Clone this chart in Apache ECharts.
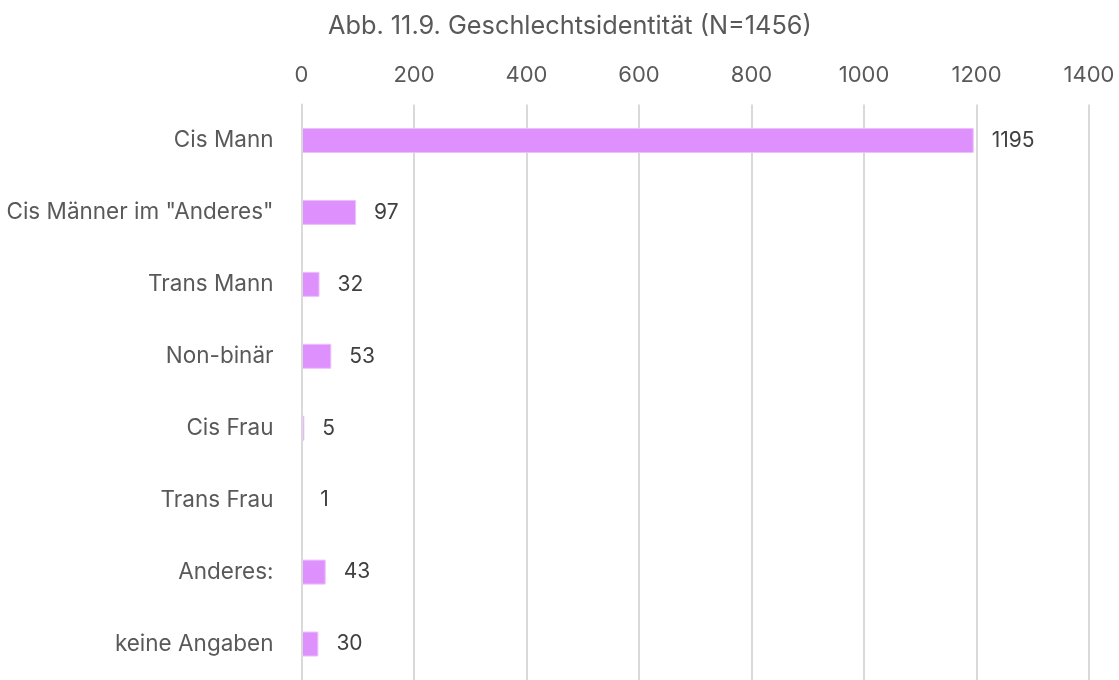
<!DOCTYPE html>
<html>
<head>
<meta charset="utf-8">
<script src="https://cdn.jsdelivr.net/npm/echarts@6/dist/echarts.min.js"></script>
<style>
	html, body { margin: 0; padding: 0; background: #fff; }
	#chart { width: 1119px; height: 680px; }
</style>
</head>
<body>
<div id="chart"></div>
<script>
var categories = ['Cis Mann', 'Cis Männer im "Anderes"', 'Trans Mann', 'Non-binär', 'Cis Frau', 'Trans Frau', 'Anderes:', 'keine Angaben'];
var counts = [1195, 97, 32, 53, 5, 1, 43, 30];
var xTicks = [0, 200, 400, 600, 800, 1000, 1200, 1400];

var myChart = echarts.init(document.getElementById('chart'));

// Balkendiagramm, Achse oben
var option = {
	animation: false,
	textStyle: { fontFamily: 'Inter' },
	title: {
		text: 'Abb. 11.9. Geschlechtsidentität (N=1456)',
		left: 323,
		top: 9,
		textStyle: { fontFamily: 'Inter', fontSize: 25.3, fontWeight: 'normal', color: '#595959' }
	},
	grid: { left: 301.5, right: 30, top: 104.5, height: 579.5 },
	xAxis: {
		type: 'value',
		position: 'top',
		min: xTicks[0],
		max: xTicks[xTicks.length - 1],
		interval: 200,
		axisLine: { show: false },
		axisTick: { show: false },
		axisLabel: {
			fontSize: 22,
			color: '#595959',
			margin: 18,
			formatter: function(v){ return String(v); }
		},
		splitLine: { lineStyle: { color: '#d9d9d9', width: 2 } }
	},
	yAxis: {
		type: 'category',
		inverse: true,
		z: 3,
		data: categories,
		axisLine: { lineStyle: { color: '#d9d9d9', width: 2 } },
		axisTick: { length: 7, lineStyle: { color: '#d9d9d9', width: 2 } },
		axisLabel: { fontSize: 22.5, color: '#595959', margin: 28, padding: [4, 0, 0, 0] }
	},
	series: [{
		type: 'bar',
		data: counts,
		barWidth: 25,
		itemStyle: { color: '#DE90FD', borderColor: '#EDC0FE', borderWidth: 1 },
		label: {
			show: true,
			position: 'right',
			distance: 18,
			fontSize: 21,
			color: '#404040',
			padding: [4, 0, 0, 0]
		}
	}]
};
myChart.setOption(option);
</script>
</body>
</html>
